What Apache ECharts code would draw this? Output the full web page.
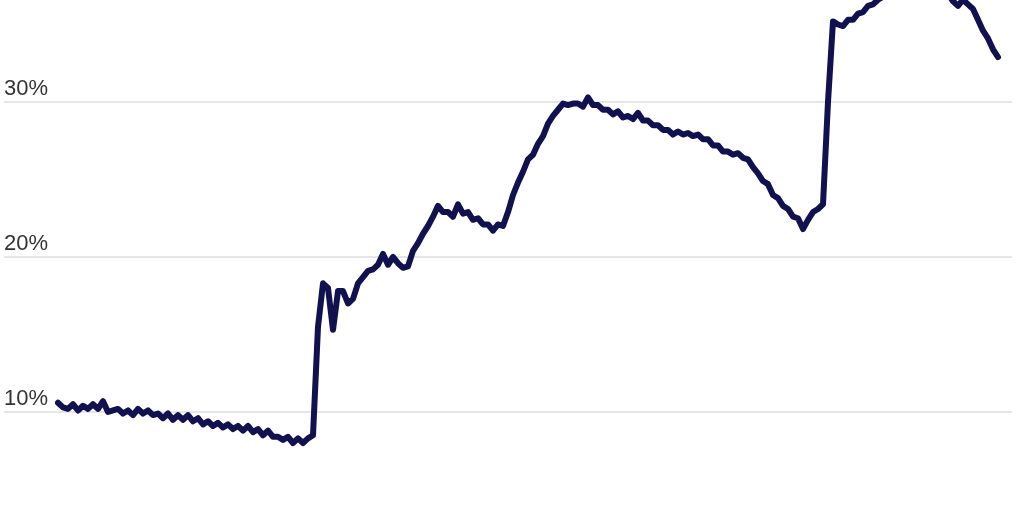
<!DOCTYPE html>
<html>
<head>
<meta charset="utf-8">
<script src="https://cdn.jsdelivr.net/npm/echarts@6/dist/echarts.min.js"></script>
<style>
html,body{margin:0;padding:0;background:#fff;overflow:hidden;width:1024px;height:512px;}
#chart{position:absolute;left:0;top:-53px;width:1024px;height:620px;}
</style>
</head>
<body>
<div id="chart"></div>
<script>
// Share values (%), evenly spaced in time
var shareValues = [
  10.6,10.3,10.2,10.5,10.1,10.4,10.2,10.5,10.2,10.7,
  10.0,10.1,10.2,9.9,10.1,9.8,10.2,9.9,10.1,9.8,
  9.9,9.6,9.9,9.5,9.8,9.5,9.8,9.4,9.6,9.2,
  9.4,9.1,9.3,9.0,9.2,8.9,9.1,8.8,9.1,8.7,
  8.9,8.5,8.8,8.4,8.4,8.2,8.4,8.0,8.3,8.0,
  8.3,8.5,15.5,18.3,18.0,15.3,17.8,17.8,17.0,17.3,
  18.3,18.7,19.1,19.2,19.5,20.2,19.5,20.0,19.6,19.3,
  19.4,20.4,20.9,21.5,22.0,22.6,23.3,22.9,22.9,22.6,
  23.4,22.8,22.9,22.4,22.5,22.1,22.1,21.7,22.1,22.0,
  22.9,24.0,24.8,25.5,26.3,26.6,27.3,27.8,28.6,29.1,
  29.5,29.9,29.8,29.9,29.9,29.7,30.3,29.8,29.8,29.5,
  29.5,29.2,29.4,29.0,29.1,28.9,29.3,28.8,28.8,28.5,
  28.5,28.2,28.2,27.9,28.1,27.9,28.0,27.8,27.9,27.6,
  27.6,27.2,27.2,26.8,26.8,26.6,26.7,26.4,26.3,25.8,
  25.4,24.9,24.7,24.0,23.8,23.3,23.1,22.6,22.5,21.8,
  22.4,22.9,23.1,23.4,30.0,35.2,35.0,34.9,35.3,35.3,
  35.7,35.8,36.2,36.3,36.6,36.8,37.2,37.6,38.0,38.3,
  38.5,38.6,38.7,38.6,38.4,38.2,37.8,37.5,37.0,36.5,
  36.2,36.6,36.3,36.0,35.3,34.6,34.1,33.4,32.9
];
var yTicks = [0, 10, 20, 30, 40];

var seriesData = shareValues.map(function (v, i) { return [i, v]; });

var chart = echarts.init(document.getElementById('chart'), null, {renderer: 'canvas'});
chart.setOption({
  animation: false,
  backgroundColor: '#ffffff',
  grid: { left: 4, right: 12, top: 0, bottom: 0, containLabel: false, outerBoundsMode: 'none' },
  xAxis: {
    type: 'value',
    min: -10.8,
    max: shareValues.length - 1 + 2.8,
    show: false,
    splitLine: { show: false }
  },
  yAxis: {
    type: 'value',
    min: yTicks[0],
    max: yTicks[yTicks.length - 1],
    interval: 10,
    axisLine: { show: false },
    axisTick: { show: false },
    axisLabel: {
      inside: true,
      align: 'left',
      verticalAlign: 'bottom',
      margin: 0,
      padding: [0, 0, 2, 0],
      fontFamily: 'Liberation Sans, Arial, sans-serif',
      fontSize: 22,
      color: '#333333',
      formatter: function (v) { return v + '%'; }
    },
    splitLine: { show: true, lineStyle: { color: '#e6e6e6', width: 2 } }
  },
  series: [{
    type: 'line',
    data: seriesData,
    showSymbol: false,
    symbol: 'none',
    clip: false,
    lineStyle: { color: '#12114f', width: 6, join: 'round', cap: 'round' }
  }]
});
</script>
</body>
</html>
